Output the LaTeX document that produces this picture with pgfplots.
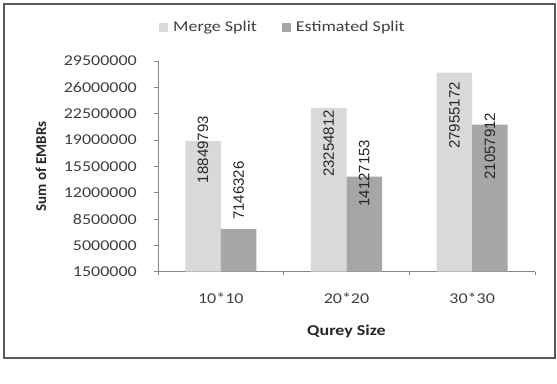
\documentclass[border=0pt]{standalone}
\usepackage{fontspec}
\setmainfont{Carlito}[FakeStretch=1.2]
\newfontfamily\plainfont{Carlito}
\newfontfamily\lblfont{Liberation Sans}
\usepackage{pgfplots}
\pgfplotsset{compat=1.18}
\usepackage{pgfplotstable}
\definecolor{mergec}{HTML}{D9D9D9}
\definecolor{estc}{HTML}{A6A6A6}
\definecolor{txt}{HTML}{404040}
\definecolor{lab}{HTML}{262626}
\definecolor{axisc}{HTML}{868686}
\definecolor{framec}{HTML}{595959}

\pgfplotstableread{
x y
0 18849793
1 23254812
2 27955172
}\merge
\pgfplotstableread{
x y
0 7146326
1 14127153
2 21057912
}\est
\pgfplotstableread{
x y lab
-0.1415 17720000 18849793
0.8585 18520000 23254812
1.8585 22260000 27955172
}\mergelab
\pgfplotstableread{
x y lab
0.1415 12260000 7146326
1.1415 14590000 14127153
2.1415 18190000 21057912
}\estlab

\begin{document}
\begin{tikzpicture}
\useasboundingbox (0,0) rectangle (557bp,384bp);
\fill[white] (0,0) rectangle (557bp,384bp);
\draw[framec, line width=1.5bp] (4bp,26bp) rectangle (555bp,380bp);
\begin{axis}[
  at={(158bp,112.3bp)}, anchor=south west, scale only axis,
  width=377bp, height=210.7bp,
  xmin=-0.5, xmax=2.5, ymin=1500000, ymax=29500000,
  scaled y ticks=false,
  axis x line*=bottom, axis y line*=left,
  axis line style={axisc, line width=0.8bp},
  xtick={0,1,2}, xticklabels={10*10,20*20,30*30},
  major x tick style={draw=none},
  minor xtick={-0.5,0.5,1.5,2.5},
  ytick={1500000,5000000,8500000,12000000,15500000,19000000,22500000,26000000,29500000},
  yticklabels={1500000,5000000,8500000,12000000,15500000,19000000,22500000,26000000,29500000},
  tick align=outside, major tick length=3.5bp, minor tick length=3.5bp,
  tick style={axisc, line width=0.8bp},
  tick label style={font=\fontsize{15bp}{18bp}\selectfont, text=txt},
  yticklabel style={anchor=east, inner sep=0pt, xshift=-17.5bp},
  xticklabel style={anchor=center, inner sep=0pt, yshift=-22.8bp},
  xlabel={Qurey Size},
  ylabel={Sum of EMBRs},
  xlabel style={at={(axis description cs:0.5,-0.2814)}, anchor=center, inner sep=0pt, font=\bfseries\fontsize{15bp}{18bp}\selectfont, text=lab},
  ylabel style={at={(axis description cs:-0.3103,0.5)}, anchor=center, inner sep=0pt, font=\plainfont\bfseries\fontsize{15bp}{18bp}\selectfont, text=lab},
  legend style={at={(axis description cs:0.0027,1.161)}, anchor=west, legend columns=2,
    draw=none, fill=none, inner sep=0pt,
    nodes={inner sep=0pt, font=\fontsize{15bp}{18bp}\selectfont, text=txt},
    /tikz/every even column/.append style={column sep=25bp}},
  legend cell align=left,
  clip=false,
]
\addplot[ybar, bar width=0.283, bar shift=-0.1415, fill=mergec, draw=none,
  legend image code/.code={\fill[mergec] (0bp,-4.5bp) rectangle (9bp,4.5bp); \path (14bp,0bp);}]
  table[x=x,y=y]{\merge};
\addlegendentry{Merge Split}
\addplot[ybar, bar width=0.283, bar shift=0.1415, fill=estc, draw=none,
  legend image code/.code={\fill[estc] (0bp,-4.5bp) rectangle (9bp,4.5bp); \path (14bp,0bp);}]
  table[x=x,y=y]{\est};
\addlegendentry{Estimated Split}
\addplot[forget plot, draw=none, mark=none, nodes near coords, point meta=explicit symbolic,
  every node near coord/.append style={rotate=90, anchor=center, inner sep=0pt,
    font=\lblfont\fontsize{15bp}{18bp}\selectfont, text=lab}]
  table[x=x,y=y,meta=lab]{\mergelab};
\addplot[forget plot, draw=none, mark=none, nodes near coords, point meta=explicit symbolic,
  every node near coord/.append style={rotate=90, anchor=center, inner sep=0pt,
    font=\lblfont\fontsize{15bp}{18bp}\selectfont, text=lab}]
  table[x=x,y=y,meta=lab]{\estlab};
\end{axis}
\end{tikzpicture}
\end{document}
